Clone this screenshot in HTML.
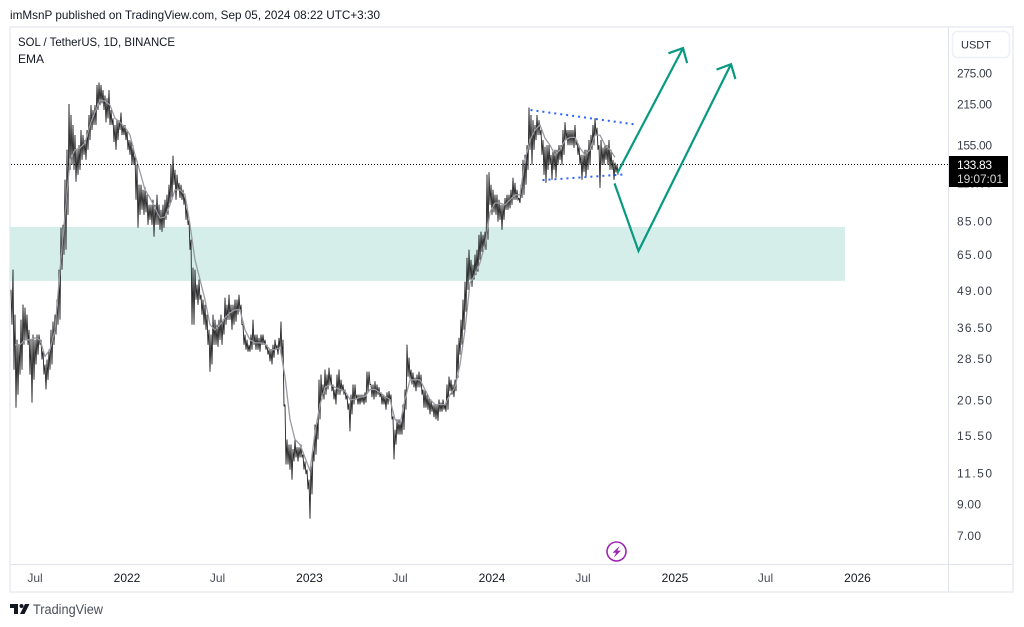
<!DOCTYPE html>
<html lang="en">
<head>
<meta charset="utf-8">
<title>SOL / TetherUS chart</title>
<style>
html,body{margin:0;padding:0;background:#fff;width:1024px;height:627px;overflow:hidden}
svg{display:block;position:absolute;left:0;top:0}
text{font-family:"Liberation Sans",sans-serif;font-size:12px;fill:#131722}
</style>
</head>
<body>
<svg id="chart" xmlns="http://www.w3.org/2000/svg" width="1024" height="627" viewBox="0 0 1024 627">
  <text x="10" y="19" textLength="370" lengthAdjust="spacingAndGlyphs" fill="#2a2e39">imMsnP published on TradingView.com, Sep 05, 2024 08:22 UTC+3:30</text>
  <rect x="10" y="27" width="1003" height="565" fill="#fff" stroke="#eef0f5" stroke-width="2"/>
  <line x1="948.5" y1="27" x2="948.5" y2="592" stroke="#e0e3eb"/>
  <line x1="10" y1="564.5" x2="1013" y2="564.5" stroke="#e0e3eb"/>
  <g id="zone"></g>
  <g id="bars"></g>
  <g id="ema"></g>
  <g id="priceline"></g>
  <g id="drawings"></g>
  <text x="18" y="46" textLength="157" lengthAdjust="spacingAndGlyphs" fill="#2a2e39">SOL / TetherUS, 1D, BINANCE</text>
  <text x="18" y="63" fill="#2a2e39">EMA</text>
  <rect x="952.5" y="31.5" width="57" height="26" rx="5" fill="#fff" stroke="#eef0f5" stroke-width="1.5"/>
  <text x="961" y="48.5" style="font-size:11px;fill:#2a2e39">USDT</text>
  <g id="yticks"></g>
  <g id="xticks"></g>
  <rect x="949" y="156" width="59" height="31" fill="#000"/>
  <text x="957" y="169" textLength="35" style="fill:#fff">133.83</text>
  <text x="957" y="183" textLength="46" style="fill:#d6d6d6">19:07:01</text>
  <g>
    <circle cx="616.5" cy="551.5" r="9.5" fill="#fff" stroke="#9c27b0" stroke-width="1.6"/>
    <polygon points="619.5,546 612.5,552.8 616,552.8 614,557.5 621,550.6 617.4,550.6" fill="#9c27b0"/>
  </g>
  <g>
    <polygon points="10,604 18,604 18,614 14,614 14,608 10,608" fill="#131722"/>
    <circle cx="21.5" cy="606" r="2" fill="#131722"/>
    <polygon points="25,604 29.5,604 24.5,614 20,614" fill="#131722"/>
    <text x="33" y="614" textLength="70" lengthAdjust="spacingAndGlyphs" style="font-size:13.5px;fill:#4a4e59">TradingView</text>
  </g>
</svg>
<script>
// --- chart data (prices in USDT; one high/low pair every 4 days) ---
const startDate = '2021-05-14';
const barStepDays = 4;
const highs = [49.2,57.7,40.4,33.1,31.8,38.8,43.7,42.7,40.4,35.8,33.1,34.5,33.1,34.5,34.5,33.1,30.6,27.2,28.3,30.6,35.8,38.2,40.4,45.5,57.7,80.5,82.4,117.8,149.5,215,197,182,168,149.5,155,175,168,161.5,175,197,213,205,213,250,255,250,240,230,225,240,205,192,182,189,189,201,182,182,175,161.5,161.5,155,143.6,132.7,113.2,113.2,108.8,111,104.6,96.6,96.6,100.5,96.6,104.6,96.6,92.8,96.6,100.5,104.6,113.2,132.7,142.5,127.5,122.6,115,113.2,108.8,104.6,96.6,85.8,73.2,58.6,57.7,51.2,53.3,47.3,45.5,43.7,40.4,35.8,34.5,40.4,38.8,37.3,38.8,40.4,38.8,46.2,43.7,47.3,43.7,43.7,45.5,45.5,47.3,43.7,37.3,34.5,33.1,31.8,34.5,38.8,34.5,34.5,33.6,34.5,34.5,33.1,31.8,30.6,30.6,31.8,33.1,31.8,33.6,38.2,33.1,19.8,15,14.4,14.4,13.9,15,14.1,14.1,14.4,13.3,12.6,11.8,10.9,12.5,13.9,16.9,17.6,24.1,25.1,23.2,26.1,25.1,26.5,25.1,23.2,22.3,25.1,26.1,24.1,23.2,22.3,21.4,20,21.4,23.2,23.2,21.4,21.4,21.4,21.4,21.8,25.7,25.7,23.2,23.2,23.8,23.2,22.7,21.8,21.4,21.1,21.8,22,21.4,18,16.2,17.6,17.6,17.6,19.8,22.3,31.8,28.7,26.1,25.5,24.5,25.1,25.7,25.1,22.3,22.3,21.4,20.9,20.6,19.8,19.8,19.8,20.6,20.1,20.6,19.8,23.2,24.7,24.1,23.2,24.1,31.8,33.6,38.8,45.5,52.5,63.4,67.6,62.4,60,65,67.6,76.1,78,76.1,78,122.6,125,113.2,108.8,104.6,104.6,100.5,96.6,96.6,102,104.6,104.6,108.8,119.7,115,108.8,102,113.2,138,143.6,155,209,197,189,182,197,189,175,161.5,153,155,155,143.6,149.5,149.5,149.5,155,155,175,186,175,175,175,175,182,161.5,155,143.6,143.6,149.5,149.5,161.5,168,182,192,178,155,161.5,152,155,155,161.5,149.5,138,135,132.7];
const lows = [37.3,26.1,19.3,21.4,25.1,26.1,31.8,33.1,31.8,25.1,20.1,24.1,27.2,29.4,31.8,28.3,25.1,22.3,24.1,26.1,27.2,31.8,34.5,37.3,38.8,57.7,65,67.6,89.2,127.5,132.7,127.5,116,122.6,127.5,138,143.6,138,149.5,161.5,175,182,182,205,213,216,205,186,192,182,182,159,149.5,161.5,175,168,168,161.5,149.5,143.6,132.7,132.7,100.5,80.5,89.2,92.8,89.2,91,82.4,85.8,82.4,75,82.4,82.4,79.2,78,80.5,85.8,89.2,96.6,100.5,113.2,100.5,108.8,102,100.5,96.6,85.8,82.4,67.6,37.3,37.3,45.5,43.7,45.5,40.4,37.3,35.8,31.8,25.7,27.2,31.8,31.8,31.3,33.1,31.8,34.5,37.3,38.8,38.8,35.8,37.3,38.2,40.4,41.3,37.3,31.8,30.6,30.1,30.1,30.6,31.8,30.6,30.6,30.1,31.8,31.8,30.6,29.4,27.9,27.2,28.7,30.6,29.4,30.6,28.3,19.5,12.3,12.3,11.8,10.9,12.6,13,12.6,13,13,11.8,11.4,10.1,8.0,9.7,12.6,13.3,15,17.6,20.6,20.6,21.4,22.3,23.2,22,20.6,19.8,21.4,21.4,22,21.4,20.6,19,16,18.3,19.8,20.6,19.8,19.8,20.1,19.8,20.1,21.8,23.2,21,20.6,21,21.4,21,19.8,19.8,19,19.8,20.3,17.6,12.8,14.4,15.6,15.6,15.6,16.2,19,24.7,24.3,23.2,22.7,22,22.7,22.7,21.4,19.3,19.3,19,18.3,18.7,17.9,17.6,17.4,18.7,18.7,19,18.7,19,22,21.4,21,22,24.5,29.4,31.8,35.8,41.3,49.2,53.3,50.4,53.3,55.4,56.8,62.4,66.5,68.6,67.6,73.2,96.6,89.2,91,89.2,84.5,85.8,79.2,85.8,92.8,92.8,94,96.6,100.5,100.5,100.5,98,102,104.6,113.2,127.5,149.5,132.7,149.5,161.5,168,168,143.6,122.6,115,127.5,132.7,117.8,127.5,119.7,132.7,138,132.7,143.6,161.5,155,155,155,151.7,155,143.6,132.7,117.8,125.5,119.7,127.5,132.7,149.5,155,168,149.5,110.5,132.7,132.7,138,132.7,127.5,127.5,117.8,125,122.6];
const emaFirstDay = 8;
const emaStepDays = 10;
const emaValues = [31.8,31.8,33.1,33.1,33.6,33.1,29,30.6,35.8,57.7,89.2,138,149.5,151.7,157.5,182,202,222,220,213,192,186,179,168,143.6,125.5,108.8,102,94.3,87,87.7,96.6,108.8,108.8,104.6,82.4,62.4,53.3,45.5,37.3,35.8,37.3,39.4,41,42,42,35.8,33.1,32.3,32.3,32,30.6,30.6,31.1,24.7,17.6,15,14.4,13,11.7,15.9,19.8,22.7,23.2,22.7,22.3,22,20.6,20.6,21,21.1,22.3,22.3,21.8,21.1,20.6,17.6,16.9,20.6,24.1,24.1,24.1,22.3,20.6,19.8,19.8,19.8,21.4,22.7,27.2,35.8,52,55.4,61,70.3,91,98,98,96.6,100.5,104.6,104.6,138,161.5,175,182,164,155,143.6,149.5,161.5,165,165,151.7,143.6,149.5,168,168,155,149.5,141];
const lastPrice = [133.83];
const priceTicks = [275,215,155,115,85,65,49,36.5,28.5,20.5,15.5,11.5,9,7];
const timeTickDates = ['2021-07-01','2022-01-01','2022-07-01','2023-01-01','2023-07-01','2024-01-01','2024-07-01','2025-01-01','2025-07-01','2026-01-01'];
const timeTickLabels = ['Jul','2022','Jul','2023','Jul','2024','Jul','2025','Jul','2026'];
// drawings, as [date, price]
const zoneDates = ['2021-05-12','2025-12-07'];
const zonePrices = [81,52.8];
const flagUpper = [['2024-03-18',205],['2024-10-11',183]];
const flagLower = [['2024-04-11',117.5],['2024-09-22',123]];
const arrowA = [['2024-09-08',124.5],['2025-01-17',335]];
const arrowB = [['2024-09-02',114.5],['2024-10-20',67],['2025-04-23',295]];

const SVGNS = 'http://www.w3.org/2000/svg';
const DAY = 86400000;
function dayOf(d){ return (Date.parse(d) - Date.parse(startDate)) / DAY; }
function xOfDay(day){ return 11 + 0.5 * day; }
function xOfDate(d){ return xOfDay(dayOf(d)); }
function yOfPrice(p){ return 73 + 126 * Math.log(275 / p); }
function mk(tag, parent, attrs){
  const el = document.createElementNS(SVGNS, tag);
  for (const k in attrs) el.setAttribute(k, attrs[k]);
  parent.appendChild(el);
  return el;
}
function pts(list){ return list.map(function(p){ return xOfDate(p[0]).toFixed(1) + ',' + yOfPrice(p[1]).toFixed(1); }).join(' '); }

// zone
const zoneEl = mk('rect', document.getElementById('zone'), {
  x: xOfDate(zoneDates[0]), y: yOfPrice(zonePrices[0]),
  width: xOfDate(zoneDates[1]) - xOfDate(zoneDates[0]),
  height: yOfPrice(zonePrices[1]) - yOfPrice(zonePrices[0]), fill: '#d5eee9'
});



// bars: each period drawn as a thin high-to-low stroke running into the next period's high
const barsG = document.getElementById('bars');
highs.forEach(function(h, i){
  const x = xOfDay(i * barStepDays);
  const xMid = xOfDay(i * barStepDays + barStepDays / 2);
  let d = 'M' + x + ' ' + yOfPrice(h).toFixed(1) + 'L' + xMid + ' ' + yOfPrice(lows[i]).toFixed(1);
  if (i + 1 < highs.length) d += 'L' + xOfDay((i + 1) * barStepDays) + ' ' + yOfPrice(highs[i + 1]).toFixed(1);
  const bar = mk('path', barsG, { d: d, fill: 'none', stroke: '#242424', 'stroke-width': 0.9 });
  
  
});

// EMA
const emaPts = emaValues.map(function(v, i){
  return xOfDay(emaFirstDay + i * emaStepDays).toFixed(1) + ',' + yOfPrice(v).toFixed(1);
}).join(' ');
const emaEl = mk('polyline', document.getElementById('ema'), {
  points: emaPts, fill: 'none', stroke: '#9a9aa2', 'stroke-width': 1.3, 'stroke-linejoin': 'round'
});



// last price line
const plY = Math.round(yOfPrice(lastPrice[0])) + 0.5;
const plEl = mk('line', document.getElementById('priceline'), {
  x1: 11, x2: 948, y1: plY, y2: plY, stroke: '#000', 'stroke-width': 1, 'stroke-dasharray': '1 2'
});



// drawings
const drawG = document.getElementById('drawings');
const upperEl = mk('polyline', drawG, { points: pts(flagUpper), fill: 'none', stroke: '#2962ff', 'stroke-width': 2, 'stroke-dasharray': '2 4' });


const lowerEl = mk('polyline', drawG, { points: pts(flagLower), fill: 'none', stroke: '#2962ff', 'stroke-width': 2, 'stroke-dasharray': '2 4' });



function arrowHead(list){
  const a = list[list.length - 2], b = list[list.length - 1];
  const ax = xOfDate(a[0]), ay = yOfPrice(a[1]), bx = xOfDate(b[0]), by = yOfPrice(b[1]);
  const t = Math.atan2(by - ay, bx - ax), L = 15.5, w = 0.75;
  return (bx + L * Math.cos(t + Math.PI - w)).toFixed(1) + ',' + (by + L * Math.sin(t + Math.PI - w)).toFixed(1) + ' ' +
    bx.toFixed(1) + ',' + by.toFixed(1) + ' ' +
    (bx + L * Math.cos(t + Math.PI + w)).toFixed(1) + ',' + (by + L * Math.sin(t + Math.PI + w)).toFixed(1);
}
[arrowA, arrowB].forEach(function(path, n){
  const line = mk('polyline', drawG, { points: pts(path), fill: 'none', stroke: '#089981', 'stroke-width': 2.2, 'stroke-linejoin': 'miter' });
  
  
  const head = mk('polyline', drawG, { points: arrowHead(path), fill: 'none', stroke: '#089981', 'stroke-width': 2.2 });
  
  
});

// price axis
const yG = document.getElementById('yticks');
priceTicks.forEach(function(p){
  const t = mk('text', yG, { x: 957, y: yOfPrice(p) + 4.5, textLength: p < 10 ? 24 : 35, style: 'fill:#3a3e48' });
  t.textContent = p.toFixed(2);
  
  
});

// time axis
const xG = document.getElementById('xticks');
timeTickDates.forEach(function(d, i){
  const isYear = timeTickLabels[i] !== 'Jul';
  const t = mk('text', xG, { x: xOfDate(d), y: 582, 'text-anchor': 'middle', style: 'fill:' + (isYear ? '#131722' : '#4a4e59') });
  t.textContent = timeTickLabels[i];
  
  
});
</script>
</body>
</html>
